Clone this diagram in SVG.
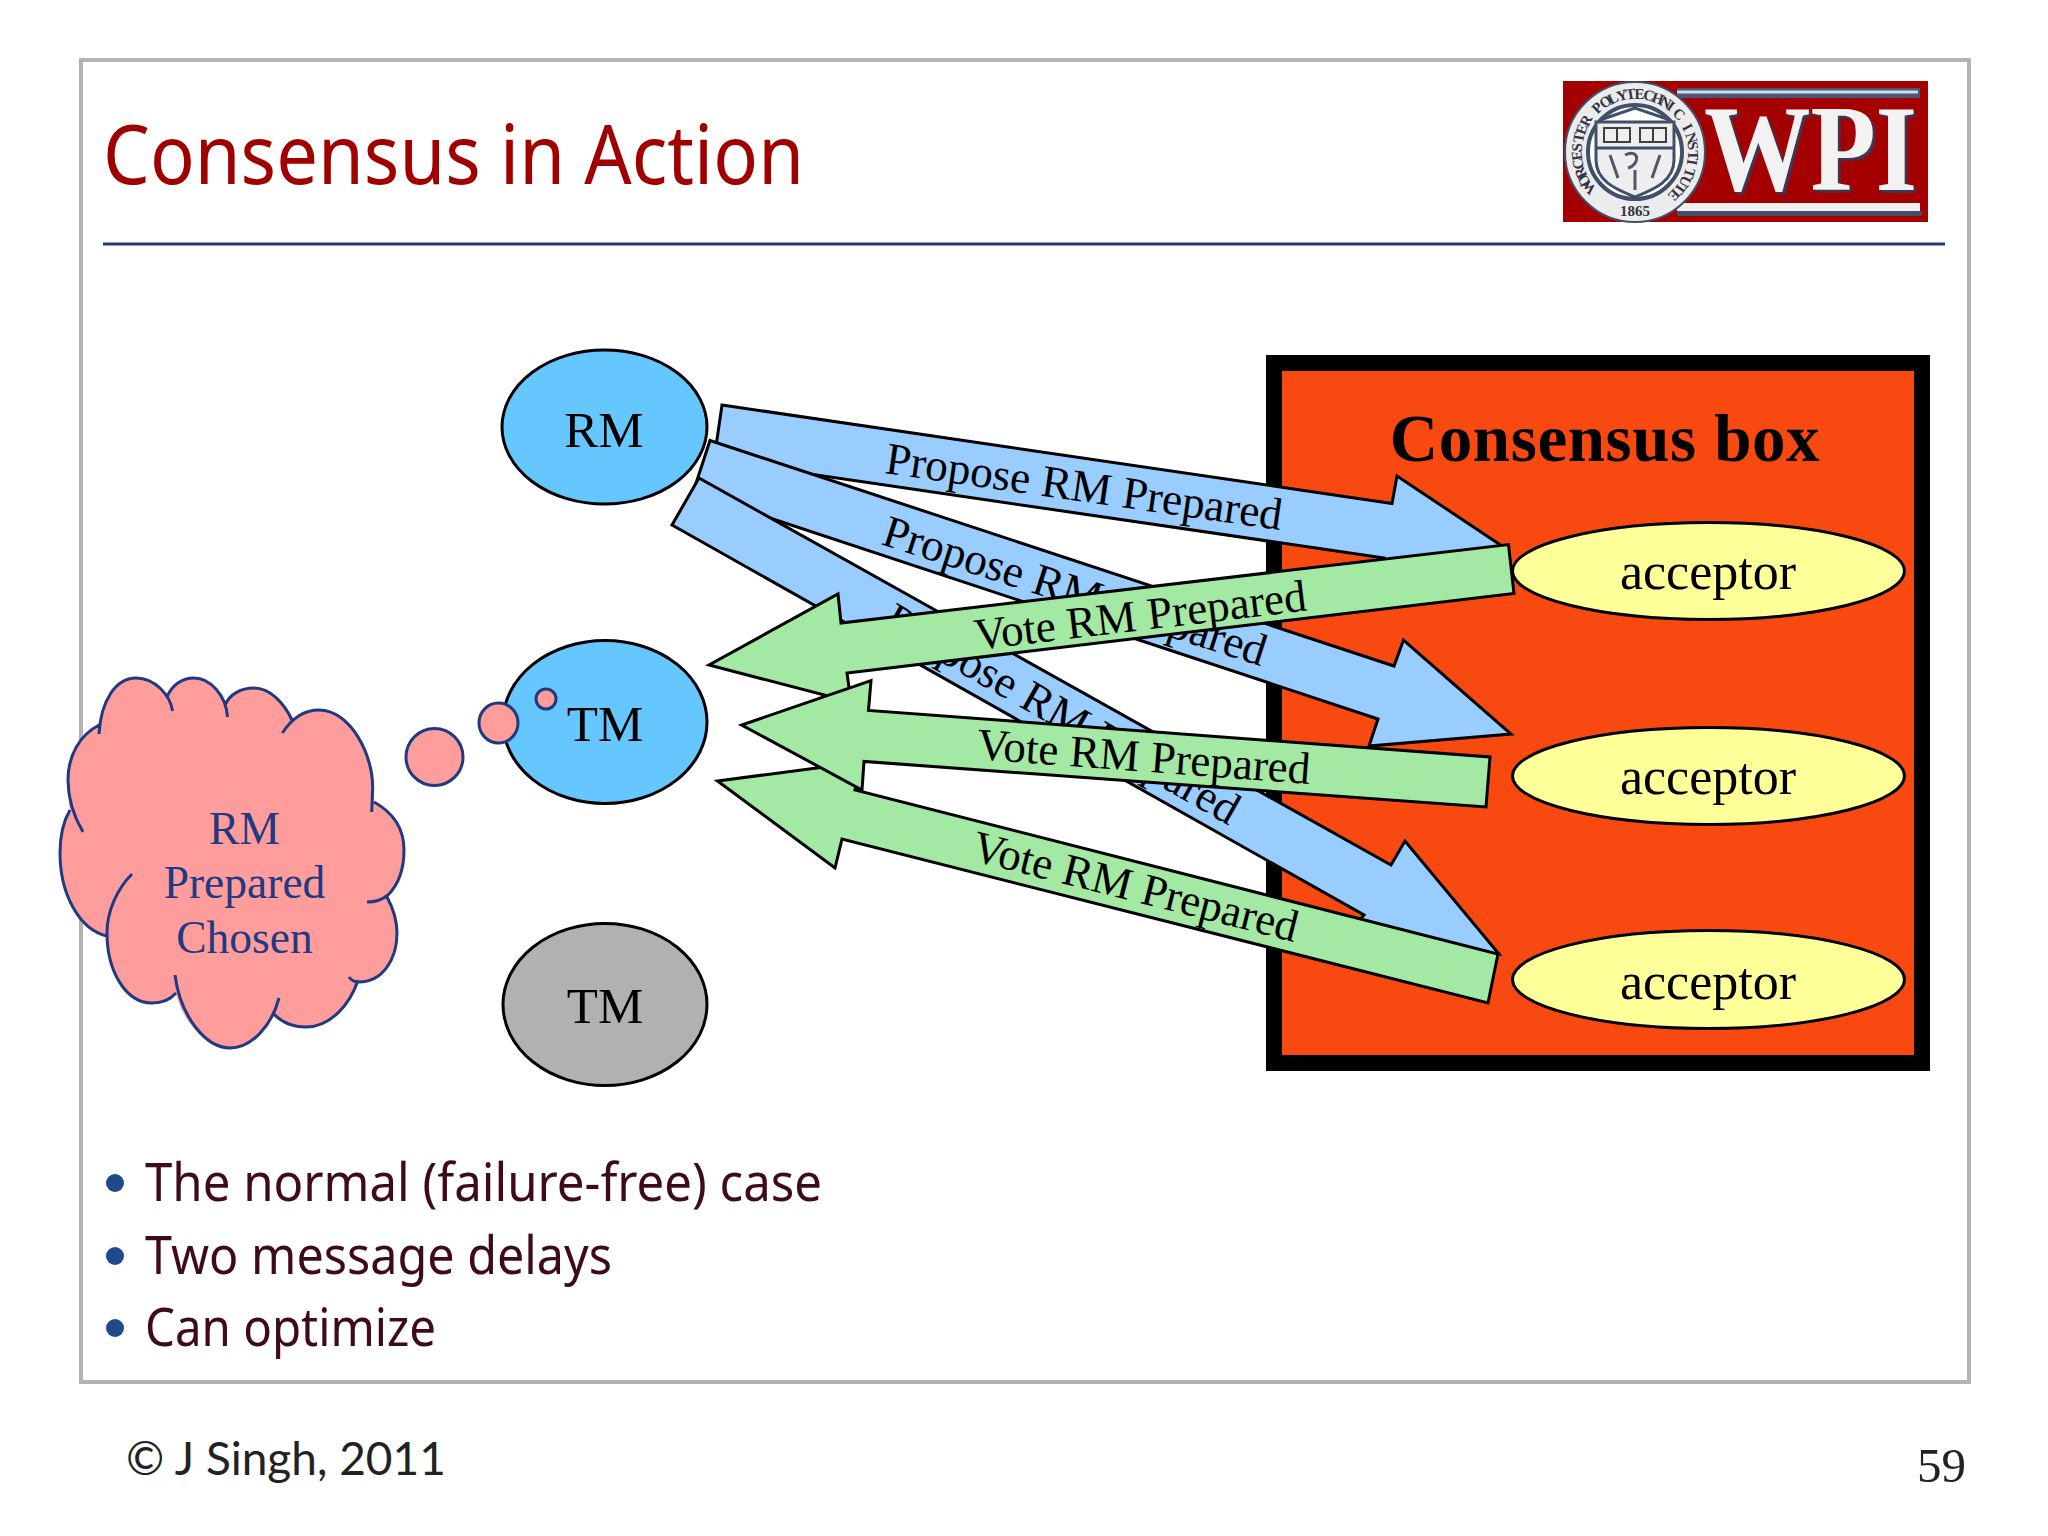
<svg xmlns="http://www.w3.org/2000/svg" width="2048" height="1536" viewBox="0 0 2048 1536">
<defs>
<style>
.serif{font-family:"Liberation Serif","Times New Roman",serif}
.sans{font-family:"Noto Sans","DejaVu Sans",sans-serif}
.ell{stroke:#000;stroke-width:3}
.lbl{font-size:51px;fill:#000;text-anchor:middle}
.acc{font-size:52px;fill:#000;text-anchor:middle}
.blue{fill:#99ccff;stroke:#000;stroke-width:3}
.green{fill:#a3e8a3;stroke:#000;stroke-width:3}
.al{font-size:45.300px;fill:#000}
.vl{font-size:45px;fill:#000}
.cl{fill:none;stroke:#1f3a80;stroke-width:3}
.ct{font-size:45.500px;fill:#1f3a80;text-anchor:middle}
.pk{fill:#ff9d9d;stroke:#1f3a80;stroke-width:3}
.bt{font-size:52px;fill:#3f0a1c}
.bd{fill:#1f4a8a}
</style>
<filter id="wpiShadow" x="-10%" y="-10%" width="120%" height="120%"><feDropShadow dx="2.500" dy="2.500" stdDeviation="0.800" flood-color="#2f4060"/></filter>
</defs>
<rect width="2048" height="1536" fill="#fff"/>
<rect id="frame" x="81" y="60" width="1888" height="1322" fill="#fff" stroke="#b3b3b3" stroke-width="4"/>
<text id="title" class="sans" x="103" y="184" font-size="82" fill="#a00000" textLength="701" lengthAdjust="spacingAndGlyphs">Consensus in Action</text>
<line x1="103" y1="244" x2="1945" y2="244" stroke="#1f3a80" stroke-width="3"/>
<g id="logo">
<rect x="1563" y="81" width="365" height="141" fill="#a50000"/>
<rect x="1677" y="88" width="243" height="10" fill="#46597a"/>
<rect x="1677" y="90.500" width="241" height="3" fill="#d5dbe2"/>
<rect x="1677" y="203" width="243" height="8" fill="#f0f0f0"/>
<rect x="1677" y="211" width="245" height="5" fill="#3f5068"/>
<text class="serif" x="1704" y="190" font-size="122" font-weight="bold" fill="#f2f2f2" textLength="213" lengthAdjust="spacingAndGlyphs" filter="url(#wpiShadow)">WPI</text>
<circle cx="1635" cy="152" r="70" fill="#ececec" stroke="#3f5068" stroke-width="2"/>
<circle cx="1635" cy="152" r="47" fill="#fff" stroke="#3f5068" stroke-width="4"/>
<path d="M1596,122 H1674 V160 C1674,182 1652,190 1635,197 C1618,190 1596,182 1596,160 Z" fill="#eee" stroke="#3f5068" stroke-width="3"/>
<path d="M1596,148 H1674 M1600,120 L1635,108 L1670,120" fill="none" stroke="#3f5068" stroke-width="3"/>
<path d="M1604,128 H1630 V142 H1604 Z M1640,128 H1666 V142 H1640 Z M1617,128 V142 M1653,128 V142" fill="none" stroke="#3f3f3f" stroke-width="2"/>
<path d="M1625,155 C1640,148 1640,165 1628,168 M1635,170 V190 M1610,155 L1618,178 M1660,155 L1652,178" fill="none" stroke="#556" stroke-width="3"/>
<text class="serif" font-size="15" font-weight="bold" fill="#334" x="1596.9 1591.6 1587.5 1584.4 1582.6 1582 1582.7 1584.7 1587.9 1592.2 1597.5 1603.8 1610.8 1618.4 1626.4 1634.5 1642.7 1650.7 1658.4 1665.5 1671.8 1677.3 1681.7 1685 1687.2 1688 1687.6 1685.9 1683 1678.9 1673.7" y="188.8 182.5 175.4 167.8 159.7 151.5 143.3 135.4 127.8 120.8 114.5 109.2 104.9 101.7 99.7 99 99.6 101.4 104.5 108.6 113.9 120 127 134.5 142.4 150.6 158.8 166.9 174.6 181.7 188.1" rotate="-134 -125.1 -116.2 -107.3 -98.4 -89.5 -80.6 -71.7 -62.8 -53.9 -45 -36.1 -27.2 -18.3 -9.4 -0.5 8.4 17.3 26.2 35.1 44 52.9 61.8 70.7 79.6 88.5 97.4 106.3 115.2 124.1 133" xml:space="preserve">WORCESTER POLYTECHNIC INSTITUTE</text>
<text class="serif" x="1635" y="216" font-size="15" font-weight="bold" fill="#334" text-anchor="middle">1865</text>
</g>
<g id="consensus-box">
<rect x="1274" y="363" width="648" height="700" fill="#f84a10" stroke="#000" stroke-width="16"/>
<text class="serif" x="1605" y="461" font-size="67" font-weight="bold" fill="#000" text-anchor="middle" letter-spacing="0.600">Consensus box</text>
</g>
<g id="rm"><ellipse class="ell" cx="604.500" cy="427" rx="102.500" ry="77" fill="#66c7ff"/><text class="serif lbl" x="604" y="447">RM</text></g>
<g id="tm-active"><ellipse class="ell" cx="605" cy="722" rx="102" ry="81.500" fill="#66c7ff"/><text class="serif lbl" x="605" y="741">TM</text></g>
<g id="tm-idle"><ellipse class="ell" cx="605" cy="1004.500" rx="102" ry="81" fill="#b2b0b2"/><text class="serif lbl" x="605" y="1023">TM</text></g>
<g id="acceptor-1"><ellipse class="ell" cx="1708.500" cy="571" rx="196" ry="48.500" fill="#ffff99"/><text class="serif acc" x="1708" y="589">acceptor</text></g>
<g id="acceptor-2"><ellipse class="ell" cx="1708.500" cy="776" rx="196" ry="48.500" fill="#ffff99"/><text class="serif acc" x="1708" y="794">acceptor</text></g>
<g id="acceptor-3"><ellipse class="ell" cx="1708.500" cy="979.500" rx="196" ry="49" fill="#ffff99"/><text class="serif acc" x="1708" y="999">acceptor</text></g>
<g id="thought-cloud">
<path d="M99,730 C101,700 116,678 136,678 C155,678 165,690 167,697 C172,685 182,678 194,678 C210,678 222,695 225,705 C230,694 241,688 254,688 C270,688 284,703 292,720 C300,714 310,710 319,710 C350,710 374,755 374,802 C392,812 404,828 404,850 C404,870 398,885 387,897 C394,910 397,920 397,933 C397,960 382,982 359,982 C350,1005 330,1027 306,1027 C292,1027 281,1022 273,1013 C266,1030 250,1048 230,1048 C205,1048 182,1020 176,993 C170,1000 162,1003 152,1003 C125,1003 107,970 107,936 C80,930 60,895 60,853 C60,835 63,822 70,810 C68,798 68,790 68,780 C68,755 80,735 99,725 Z" fill="#ff9d9d"/>
<path class="cl" d="M99,734 C101,700 116,678 136,678 C155,678 170,695 172.600,711 M167,697 C172,685 182,678 194,678 C210,678 226,695 227.500,717 M225,705 C230,694 241,688 254,688 C270,688 284,703 292,720 M282.400,733 C292,718 305,710 319,710 C350,710 374,755 372.600,790 L371.700,812 M374,802 C392,812 404,828 404,850 C404,870 398,885 388,895 C382,900 375,902 367,902 M387,897 C394,910 397,920 397,933 C397,960 382,982 359,982 C355,982 351,980 349,977 M358,980 C350,1005 330,1027 306,1027 C292,1027 281,1022 273,1013 M279,998 C272,1025 252,1048 230,1048 C205,1048 180,1015 175,975 M176,993 C170,1000 162,1003 152,1003 C125,1003 107,970 107,933 C107,910 118,888 132,874 M107,936 C80,930 60,895 60,853 C60,835 63,822 70,810 M83,832 C73,815 68,798 68,780 C68,755 80,735 99,725"/>
<text class="serif ct" x="244.500" y="844">RM</text>
<text class="serif ct" x="244.500" y="898">Prepared</text>
<text class="serif ct" x="244.500" y="953">Chosen</text>
<ellipse class="pk" cx="434.500" cy="757" rx="28.500" ry="28.500"/>
<ellipse class="pk" cx="498.500" cy="723" rx="19.500" ry="20"/>
<ellipse class="pk" cx="546" cy="699" rx="10" ry="10"/>
</g>
<g id="connectors">
<polygon class="blue" points="722,405 1392,503.500 1397,476 1505,548 1380,586 1384,558 714,460"/>
<polygon class="blue" points="710,440.500 1394,666 1403.500,640 1511,734 1369,746 1378,719 693,492.500"/>
<polygon class="blue" points="699,478 1391,865 1405,841 1499,954 1340,945 1364,915 672,525"/>
<text class="serif al" transform="translate(884,473) rotate(8.200)">Propose RM Prepared</text>
<text class="serif al" transform="translate(880,544) rotate(17.800)">Propose RM Prepared</text>
<text class="serif al" transform="translate(881,628) rotate(29.600)">Propose RM Prepared</text>
<polygon class="green" points="1498,954 1488,1003 842,839 835,868 717.500,781 862,762 855,790"/>
<polygon class="green" points="1508.500,544.600 1514,593.500 847,673 851,702 709,665 838,594 841,623"/>
<polygon class="green" points="1490,757 1486,807 864,761.400 862,790 741.600,725 871,680.600 868.500,710.400"/>
<text class="serif vl" transform="translate(976,650) rotate(-6.800)">Vote RM Prepared</text>
<text class="serif vl" transform="translate(976,759) rotate(4.300)">Vote RM Prepared</text>
<text class="serif vl" transform="translate(970,860) rotate(14.200)">Vote RM Prepared</text>
</g>
<g id="bullets">
<circle class="bd" cx="115" cy="1183" r="9"/><text class="sans bt" x="145" y="1201" textLength="677" lengthAdjust="spacingAndGlyphs">The normal (failure-free) case</text>
<circle class="bd" cx="115" cy="1256" r="9"/><text class="sans bt" x="145" y="1274" textLength="467" lengthAdjust="spacingAndGlyphs">Two message delays</text>
<circle class="bd" cx="115" cy="1328" r="9"/><text class="sans bt" x="145" y="1346" textLength="291" lengthAdjust="spacingAndGlyphs">Can optimize</text>
</g>
<text id="copyright" x="126" y="1475" font-family="Lato,'Open Sans',sans-serif" font-size="46" fill="#222">© J Singh, 2011</text>
<text id="page" class="serif" x="1917" y="1482" font-size="49" fill="#222">59</text>
</svg>
